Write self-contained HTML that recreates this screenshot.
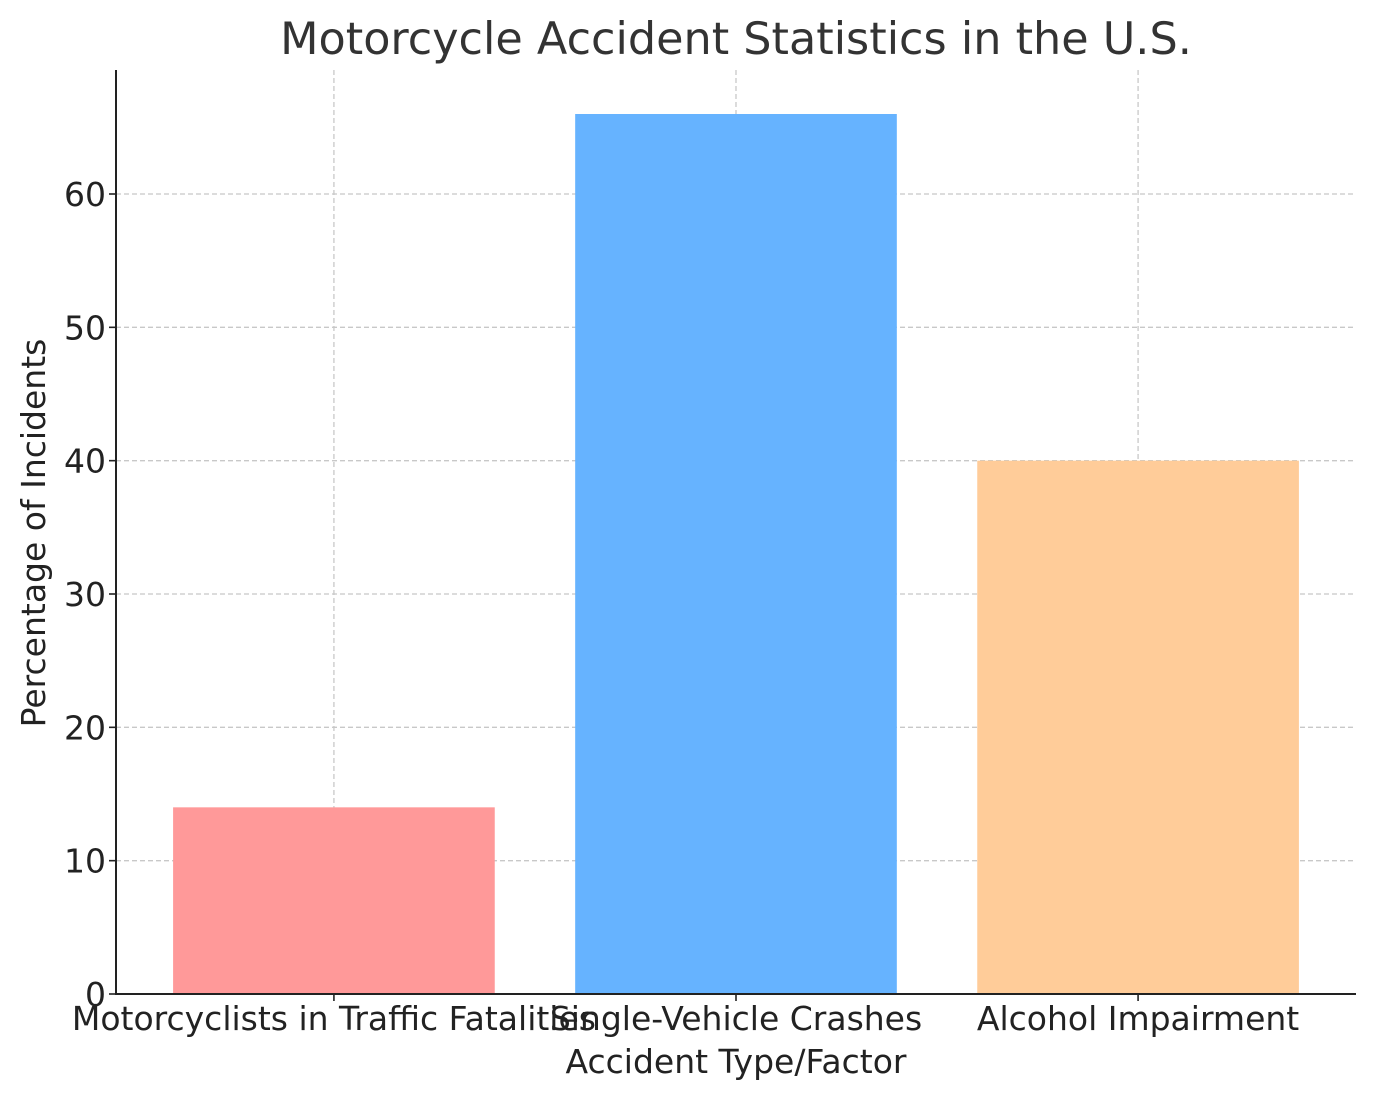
<!DOCTYPE html>
<html><head><meta charset="utf-8"><style>
html,body{margin:0;padding:0;background:#fff;}
svg{display:block;font-family:"DejaVu Sans","Liberation Sans",sans-serif;}
</style></head><body>
<svg id="chart" width="1376" height="1101" viewBox="0 0 1376 1101" xmlns="http://www.w3.org/2000/svg">
<text x="736" y="54" text-anchor="middle" font-size="44.5" fill="#333">Motorcycle Accident Statistics in the U.S.</text>
<g id="grid"></g><g id="bars"></g><g id="axes"></g>
<text x="736" y="1073" text-anchor="middle" font-size="33" fill="#222">Accident Type/Factor</text>
<text transform="translate(45,533) rotate(-90)" text-anchor="middle" font-size="33" fill="#222">Percentage of Incidents</text>
</svg>
<script>
const categories = ["Motorcyclists in Traffic Fatalities", "Single-Vehicle Crashes", "Alcohol Impairment"];
const values = [14, 66, 40];
const colors = ["#ff9999", "#66b3ff", "#ffcc99"];
const yTicks = [0, 10, 20, 30, 40, 50, 60];

const L=116,R=1356,T=70,B=994;
const xMin=-0.542,xMax=categories.length-1+0.542;
const yMin=0,yMax=60/(800/924);
const xs=i=>L+(i-xMin)/(xMax-xMin)*(R-L);
const ys=v=>B-(v-yMin)/(yMax-yMin)*(B-T);
const ns="http://www.w3.org/2000/svg";
function mk(tag,attrs,parent,text){const e=document.createElementNS(ns,tag);for(const k in attrs)e.setAttribute(k,attrs[k]);if(text!==undefined)e.textContent=text;document.getElementById(parent).appendChild(e);return e;}
const bw=0.8*(xs(1)-xs(0));
yTicks.forEach(v=>{
  const y=ys(v);
  const g=mk('line',{x1:L,x2:R,y1:y,y2:y,stroke:'#c8c8c8','stroke-width':1.3,'stroke-dasharray':'5,3'},'grid');
  
  
  const t=mk('line',{x1:L-7,x2:L,y1:y,y2:y,stroke:'#222','stroke-width':1.6},'axes');
  
  
  const l=mk('text',{x:L-10,y:y+12,'text-anchor':'end','font-size':33,fill:'#222'},'axes',String(v));
  
  
});
categories.forEach((c,i)=>{
  const x=xs(i);
  const g=mk('line',{x1:x,x2:x,y1:T,y2:B,stroke:'#c8c8c8','stroke-width':1.3,'stroke-dasharray':'5,3'},'grid');
  
  
  const b=mk('rect',{x:x-bw/2,y:ys(values[i]),width:bw,height:B-ys(values[i]),fill:colors[i]},'bars');
  
  
  const t=mk('line',{x1:x,x2:x,y1:B,y2:B+7,stroke:'#222','stroke-width':1.6},'axes');
  
  
  const l=mk('text',{x:x,y:B+36,'text-anchor':'middle','font-size':33,fill:'#222'},'axes',c);
  
  
});
const ax=mk('path',{d:`M${L},${T} V${B} H${R}`,fill:'none',stroke:'#222','stroke-width':2},'axes');


</script>
</body></html>
